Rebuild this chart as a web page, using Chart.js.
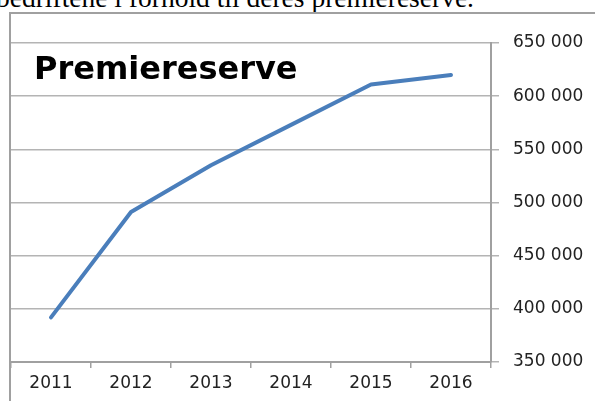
<!DOCTYPE html>
<html lang="no">
  <head>
    <meta charset="UTF-8" />
    <title>Premiereserve</title>
    <script src="https://cdn.jsdelivr.net/npm/chart.js"></script>
    <style>
      html, body { margin: 0; padding: 0; background: #fff; overflow: hidden; }
      body { width: 595px; height: 401px; position: relative; }
      #caption {
        position: absolute; left: -4px; top: -16px; white-space: nowrap;
        font-family: "Liberation Serif", serif; font-size: 27.5px; line-height: 28px; color: #000;
      }
      #frame {
        position: absolute; left: 9px; top: 12px; width: 600px; height: 420px;
        border: 2px solid #a0a0a0;
      }
      #chartTitle {
        position: absolute; left: 34px; top: 52px; white-space: nowrap;
        font-family: "DejaVu Sans", sans-serif; font-weight: bold; font-size: 32px; line-height: 32px; color: #000;
      }
      canvas { position: absolute; left: 0; top: 0; }
    </style>
  </head>
  <body>
    <div id="caption">bedriftene i forhold til deres premiereserve.</div>
    <div id="frame">
      <canvas id="premieChart" width="584" height="387"></canvas>
    </div>
    <div id="chartTitle">Premiereserve</div>
    <script>
      // data
      const years = ["2011", "2012", "2013", "2014", "2015", "2016"];
      const premiereserve = [392000, 491000, 535000, 573000, 611000, 620000];
      const yMin = 350000;
      const yMax = 650000;
      const yStep = 50000;

      function formatNumber(v) {
        return String(v).replace(/\B(?=(\d{3})+(?!\d))/g, " ");
      }

      const ctx = document.getElementById("premieChart").getContext("2d");

      new Chart(ctx, {
        type: "line",
        data: {
          labels: years,
          datasets: [
            {
              label: "Premiereserve",
              data: premiereserve,
              fill: false,
              borderColor: "#4a7ebb",
              borderWidth: 4,
              borderCapStyle: "round",
              borderJoinStyle: "round",
              pointRadius: 0,
              tension: 0,
            },
          ],
        },
        options: {
          responsive: false,
          animation: false,
          layout: { padding: { left: 0, right: 0, top: 29, bottom: 0 } },
          plugins: { legend: { display: false }, tooltip: { enabled: false } },
          scales: {
            x: {
              offset: true,
              grid: {
                offset: true,
                drawOnChartArea: false,
                tickLength: 6,
                color: "#a0a0a0",
                lineWidth: 1.5,
              },
              border: { color: "#a0a0a0", width: 2 },
              ticks: {
                color: "#222",
                padding: 5,
                font: { family: "DejaVu Sans", size: 17 },
                maxRotation: 0,
              },
              afterFit: (scale) => { scale.height = 39; },
            },
            y: {
              position: "right",
              min: yMin,
              max: yMax,
              grid: { color: "#b4b4b4", lineWidth: 1.5, tickLength: 8 },
              border: { color: "#a0a0a0", width: 2 },
              ticks: {
                stepSize: yStep,
                padding: 14,
                color: "#222",
                font: { family: "DejaVu Sans", size: 17 },
                callback: (v) => formatNumber(v),
              },
              afterFit: (scale) => { scale.width = 104; },
            },
          },
        },
      });
    </script>
  </body>
</html>
